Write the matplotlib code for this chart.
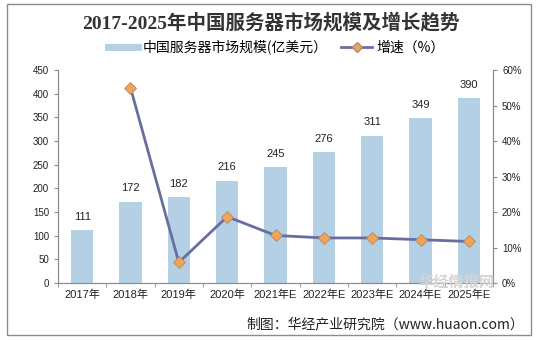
import numpy as np
import matplotlib
matplotlib.use('Agg')
import matplotlib.pyplot as plt
from matplotlib.lines import Line2D
from matplotlib.patches import Rectangle

plt.rcParams['font.family'] = ['Liberation Sans', 'Noto Sans CJK SC', 'DejaVu Sans']

# data
years = ['2017年', '2018年', '2019年', '2020年', '2021年E', '2022年E', '2023年E', '2024年E', '2025年E']
market = [111, 172, 182, 216, 245, 276, 311, 349, 390]       # 亿美元
growth = [None, 55.0, 5.8, 18.7, 13.4, 12.7, 12.7, 12.2, 11.7]  # %

bar_color = '#B4D0E4'
line_color = '#686E9F'
marker_color = '#F2A35A'
axis_color = '#8C8C8C'

fig = plt.figure(figsize=(5.41, 3.40), dpi=100)
ax = fig.add_axes([0.1072, 0.1676, 0.8041, 0.6264])
x = np.arange(len(years))

ax.bar(x, market, width=0.46, color=bar_color, zorder=1)
for xi, v in zip(x, market):
    ax.annotate(str(v), (xi, v), xytext=(0, 6), textcoords='offset points',
                ha='center', va='bottom', fontsize=8, color='#222222')

ax.set_xlim(-0.5, len(years) - 0.5)
ax.set_ylim(0, 450)
ax.set_yticks(np.arange(0, 451, 50))
ax.set_xticks(x)
ax.set_xticklabels(years, fontsize=8, color='#222222')
ax.set_xticks(np.arange(-0.5, len(years), 1), minor=True)
ax.tick_params(axis='x', which='major', length=0, pad=5)
ax.tick_params(axis='x', which='minor', length=3, color=axis_color)
ax.tick_params(axis='y', labelsize=7, colors='#222222', length=3, color=axis_color)

ax2 = ax.twinx()
gx = [xi for xi, g in zip(x, growth) if g is not None]
gy = [g for g in growth if g is not None]
ax2.plot(gx, gy, color=line_color, lw=2, marker='D', markersize=6,
         markerfacecolor=marker_color, markeredgecolor='#B08A6A', markeredgewidth=0.6, zorder=3)
ax2.set_ylim(0, 60)
ax2.set_yticks(np.arange(0, 61, 10))
ax2.set_yticklabels([f'{v}%' for v in range(0, 61, 10)])
ax2.tick_params(axis='y', labelsize=7, colors='#222222', length=3, color=axis_color)

for a in (ax, ax2):
    a.spines['top'].set_visible(False)
    for s in ('left', 'right', 'bottom'):
        a.spines[s].set_color(axis_color)
        a.spines[s].set_linewidth(0.8)

fig.text(0.5, 0.935, '2017-2025年中国服务器市场规模及增长趋势', ha='center', va='center',
         fontsize=14, fontweight='bold', color='#333333',
         family=['Liberation Serif', 'Noto Sans CJK SC'])

handles = [Line2D([0], [0], color=bar_color, lw=5),
           Line2D([0], [0], color=line_color, lw=2, marker='D', markersize=5,
                  markerfacecolor=marker_color, markeredgecolor='#B08A6A')]
fig.legend(handles, ['中国服务器市场规模(亿美元）', '增速（%）'], loc='center',
           bbox_to_anchor=(0.51, 0.862), ncol=2, frameon=False,
           handlelength=2.2, handletextpad=0.3, columnspacing=1.0,
           prop={'family': ['Noto Sans CJK SC'], 'size': 10})

# faint watermark
fig.text(0.915, 0.172, '华经情报网', ha='right', va='center', fontsize=11,
         fontweight='bold', color='#D4D4D4', family=['Noto Sans CJK SC'], zorder=0)

fig.text(0.969, 0.047, '制图：华经产业研究院（www.huaon.com）', ha='right', va='center',
         fontsize=10, color='#222222', family=['Noto Sans CJK SC'])

fig.add_artist(Rectangle((7 / 541, 1 - 335 / 340), 524 / 541, 331 / 340,
                         transform=fig.transFigure, fill=False, ec='#8C8C8C', lw=1))

fig.savefig('out.png', dpi=100)
